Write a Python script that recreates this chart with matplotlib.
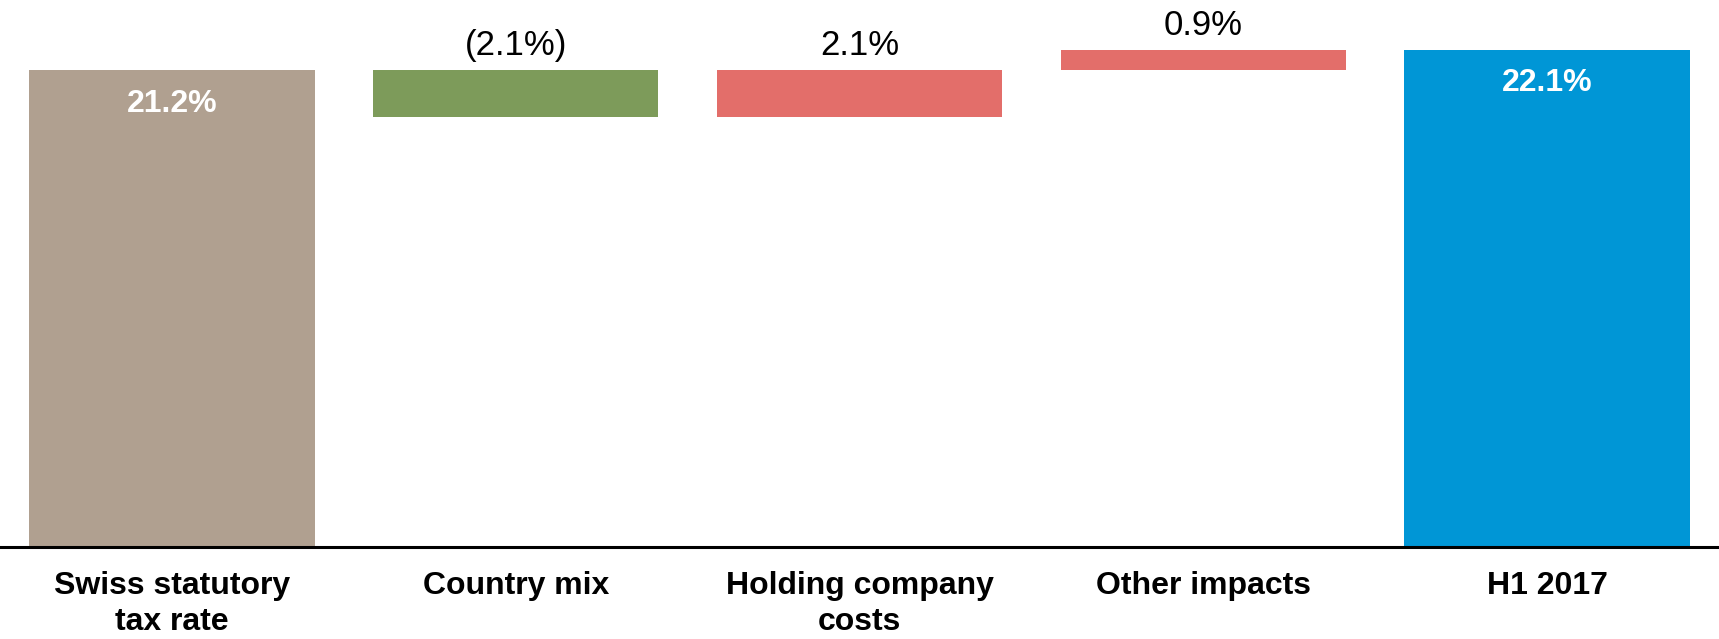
import numpy as np
import matplotlib.pyplot as plt

plt.rcParams['font.family'] = ['Liberation Sans', 'DejaVu Sans']

categories = ["Swiss statutory\ntax rate", "Country mix", "Holding company\ncosts",
              "Other impacts", "H1 2017"]
values = [21.2, -2.1, 2.1, 0.9, 22.1]
is_total = [True, False, False, False, True]
colors = ["#B0A090", "#7D9B5A", "#E36E6A", "#E36E6A", "#0096D6"]

# waterfall bottoms / heights
bottoms = []
heights = []
running = 0.0
for v, tot in zip(values, is_total):
    if tot:
        bottoms.append(0.0)
        heights.append(v)
        running = v
    else:
        new = running + v
        bottoms.append(min(running, new))
        heights.append(abs(v))
        running = new

fig = plt.figure(figsize=(17.19, 6.39), dpi=100)
ax = fig.add_axes([0.0, 0.144, 1.0, 0.856])

x = np.arange(len(categories))
ax.bar(x, heights, bottom=bottoms, width=0.83, color=colors, edgecolor='none')

for i, (v, tot) in enumerate(zip(values, is_total)):
    top = bottoms[i] + heights[i]
    if tot:
        ax.text(x[i], top - 1.5, "%.1f%%" % v, ha='center', va='center',
                color='white', fontsize=23, fontweight='bold')
    else:
        lab = "(%.1f%%)" % abs(v) if v < 0 else "%.1f%%" % v
        ax.text(x[i], top + 1.07, lab, ha='center', va='center',
                color='black', fontsize=25)

ax.set_xlim(-0.5, len(categories) - 0.5)
ax.set_ylim(0, 24.3)
ax.set_xticks(x)
ax.set_xticklabels(categories, fontsize=23, fontweight='bold', linespacing=1.3)
ax.tick_params(axis='x', length=0, pad=17)
ax.set_yticks([])
for s in ['top', 'right', 'left']:
    ax.spines[s].set_visible(False)
ax.spines['bottom'].set_linewidth(2.2)

fig.savefig("out.png", dpi=100)
